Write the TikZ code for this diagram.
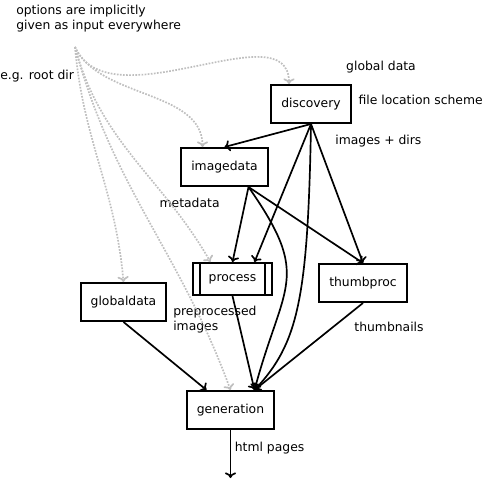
\documentclass[tikz,border=0pt]{standalone}
\usepackage{fontspec}
\setmainfont{DejaVu Sans}
\usetikzlibrary{arrows.meta}
\tikzset{> = {To[length=4pt, width=8pt]}}
\tikzset{
  box/.style={rectangle, draw, line width=1.4pt, minimum height=0.95cm, inner xsep=0.25cm},
  procbox/.style={box, minimum height=0.8cm, inner xsep=0.4cm,
    path picture={
      \draw[line width=1.4pt] ([xshift=0.175cm]path picture bounding box.north west) -- ([xshift=0.175cm]path picture bounding box.south west);
      \draw[line width=1.4pt] ([xshift=-0.175cm]path picture bounding box.north east) -- ([xshift=-0.175cm]path picture bounding box.south east);
    }},
  opt/.style={->, densely dotted, line width=1.2pt, black!25},
  lbl/.style={inner sep=0pt}
}
\begin{document}
\begin{tikzpicture}[font=\fontsize{8.8}{10.7}\selectfont]
\useasboundingbox (0,0) rectangle (12.075,12);
% nodes
\node[box] (discovery) at (7.775, 9.4) {discovery};
\node[box] (imagedata) at (5.6125, 7.825) {imagedata};
\node[procbox] (process) at (5.8125, 5.025) {process};
\node[box] (thumbproc) at (9.075, 4.925) {thumbproc};
\node[box] (globaldata) at (3.0875, 4.45) {globaldata};
\node[box] (generation) at (5.7625, 1.75) {generation};
\coordinate (opts) at (1.875, 10.825);
\coordinate (pages) at (5.7625, 0.05);
% labels
\node[lbl, anchor=west, align=left] (optnote) at (0.4, 11.54) {options are implicitly\\given as input everywhere};
\node[lbl, anchor=west] (rootdir) at (0, 10.1) {e.g. root dir};
\node[lbl] (globallbl) at (9.525, 10.325) {global data};
\node[lbl, anchor=east] (schemelbl) at (12.075, 9.5) {file location scheme};
\node[lbl] (imageslbl) at (9.46, 8.475) {images + dirs};
\node[lbl] (metalbl) at (4.74, 6.925) {metadata};
\node[lbl, anchor=west, align=left] (prelbl) at (4.325, 4.0125) {preprocessed\\images};
\node[lbl] (thumblbl) at (9.725, 3.825) {thumbnails};
\node[lbl] (htmllbl) at (6.74, 0.8) {html pages};
% option edges
\path[opt]
(opts) edge[out=-66, in=90, in looseness=0.88] ([xshift=-0.55cm]discovery.north)
(opts) edge[out=-65, in=90, looseness=0.9] ([xshift=-0.55cm]imagedata.north)
(opts) edge[out=-75, in=120] ([xshift=-0.55cm]process.north)
(opts) edge[out=-85, in=95] (globaldata.north)
(opts) edge[out=-75, in=110] (generation.north);
% edges
\path[->, line width=1.2pt]
(discovery.south) edge (imagedata.north)
(discovery.south) edge ([xshift=0.55cm]process.north)
(discovery.south) edge (thumbproc.north)
(discovery.south) edge[out=-91, in=47, out looseness=1.65, in looseness=0.6] ([xshift=0.6cm]generation.north)
([xshift=0.6cm]imagedata.south) edge (process.north)
([xshift=0.6cm]imagedata.south) edge (thumbproc.north)
([xshift=0.6cm]imagedata.south) edge[out=-55, in=75, looseness=1.4] ([xshift=0.6cm]generation.north)
(process.south) edge ([xshift=0.6cm]generation.north)
(thumbproc.south) edge ([xshift=0.6cm]generation.north)
(globaldata.south) edge ([xshift=-0.6cm]generation.north)
(generation.south) edge (pages);
\end{tikzpicture}
\end{document}
